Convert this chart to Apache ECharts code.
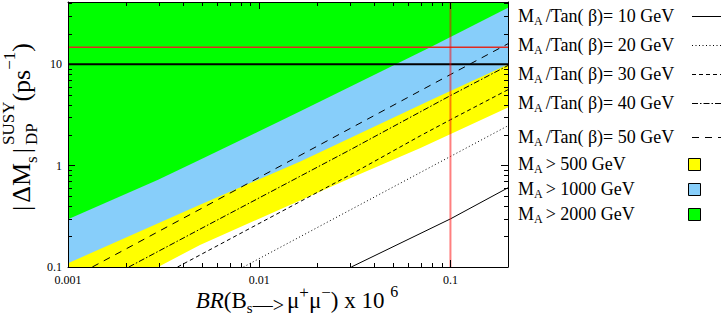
<!DOCTYPE html>
<html><head><meta charset="utf-8">
<script src="https://cdn.jsdelivr.net/npm/echarts@6/dist/echarts.min.js"></script>
<style>html,body{margin:0;padding:0;background:#fff;}#c{width:721px;height:321px;}</style>
</head><body><div id="c"></div>
<script>
// ---------------- data ----------------
const xMin = 0.001, xMax = 0.2, yMin = 0.1, yMax = 41;
const xTickLabels = ['0.001', '0.01', '0.1'];
const yTickLabels = ['0.1', '1', '10'];
const xMinorTicks = [0.002,0.003,0.004,0.005,0.006,0.007,0.008,0.009,0.02,0.03,0.04,0.05,0.06,0.07,0.08,0.09];
const yMinorTicks = [0.2,0.3,0.4,0.5,0.6,0.7,0.8,0.9,2,3,4,5,6,7,8,9,20,30,40];

// M_A/Tan(beta) curves: [BR x 10^6, |dMs|]
const line10GeV = [[0.0303,0.1],[0.1,0.298],[0.2,0.604]];
const line20GeV = [[0.00827,0.1],[0.0299,0.365],[0.1,1.23],[0.2,2.47]];
const line30GeV = [[0.00374,0.1],[0.0299,0.81],[0.0697,1.97],[0.1,2.83],[0.2,5.6]];
const line40GeV = [[0.00208,0.1],[0.0049,0.236],[0.0299,1.43],[0.1,4.9],[0.2,9.7]];
const line50GeV = [[0.00134,0.1],[0.0049,0.371],[0.1,7.9],[0.2,15.9]];

// lower edges of the M_A regions (region extends upward)
const edge500 = [[0.001,0.1],[0.00296,0.1],[0.0049,0.165],[0.0299,0.752],[0.0697,1.49],[0.2,3.73]];
const edge1000 = [[0.001,0.109],[0.0049,0.41],[0.0164,1.1],[0.0785,4.4],[0.2,9.9]];
const edge2000 = [[0.001,0.296],[0.00296,0.724],[0.0049,1.14],[0.0164,3.43],[0.0785,14.7],[0.2,36]];

const hLineBlack = 10;
const hLineRed = 14.7;
const vLineRed = 0.1;

const curveLabels = ['10','20','30','40','50'];
const regionLabels = ['500','1000','2000'];

// ---------------- styles ----------------
const FONT = '"Liberation Serif", "Times New Roman", serif';
const curveDash = ['solid', [1,2.5], [4,3], [6,2,1.5,2], [7,6]];
const regionColors = ['#ffff00', '#87cefa', '#00ff00'];
const curveData = [line10GeV, line20GeV, line30GeV, line40GeV, line50GeV];

const chart = echarts.init(document.getElementById('c'), null, {renderer:'svg'});

function fmt(labels){
  return function(v){
    for (const l of labels) if (Math.abs(Math.log10(v) - Math.log10(parseFloat(l))) < 1e-6) return l;
    return '';
  };
}
const axisBase = {
  type:'log', logBase:10, z:10,
  axisLine:{show:true, onZero:false, lineStyle:{color:'#000', width:1}},
  axisTick:{show:true, inside:true, length:7, lineStyle:{color:'#000', width:1}},
  splitLine:{show:false}, minorTick:{show:false}
};

function regionSeries(idx, edge){
  return {
    type:'custom', name:'M_A > ' + regionLabels[idx] + ' GeV', silent:true, z:1, clip:true,
    data: edge, encode:{x:0, y:1},
    renderItem: function(params, api){
      if (params.dataIndex !== 0) return null;
      const pts = edge.map(p => api.coord(p));
      pts.push(api.coord([xMax, yMax]));
      pts.push(api.coord([xMin, yMax]));
      return {type:'polygon', shape:{points:pts}, style:{fill:regionColors[idx], stroke:null}};
    }
  };
}
function curveSeries(idx){
  return {
    type:'line', name:'M_A/Tan(β)= ' + curveLabels[idx] + ' GeV', data: curveData[idx],
    symbol:'none', silent:true, z:4, clip:true,
    lineStyle:{color:'#000', width:1, type: curveDash[idx]}
  };
}
function minorTickSeries(values, isX){
  const len = 4;
  return {
    type:'custom', silent:true, z:12, clip:false,
    data: values.map(v => isX ? [v, yMin] : [xMin, v]), encode:{x:0, y:1},
    renderItem: function(params, api){
      const cs = params.coordSys;
      const p = api.coord([api.value(0), api.value(1)]);
      const st = {stroke:'#000', lineWidth:1};
      if (isX) {
        const x = Math.round(p[0]) + 0.5;
        return {type:'group', children:[
          {type:'line', shape:{x1:x, y1:cs.y+cs.height, x2:x, y2:cs.y+cs.height-len}, style:st},
          {type:'line', shape:{x1:x, y1:cs.y, x2:x, y2:cs.y+len}, style:st}
        ]};
      }
      const y = Math.round(p[1]) + 0.5;
      return {type:'group', children:[
        {type:'line', shape:{x1:cs.x, y1:y, x2:cs.x+len, y2:y}, style:st},
        {type:'line', shape:{x1:cs.x+cs.width, y1:y, x2:cs.x+cs.width-len, y2:y}, style:st}
      ]};
    }
  };
}

// ---------------- text layout helpers ----------------
const mctx = document.createElement('canvas').getContext('2d');
function measure(t, s, it){ mctx.font = (it ? 'italic ' : '') + s + 'px ' + FONT; return mctx.measureText(t).width; }
function layoutPieces(pieces){
  let x = 0; const out = [];
  for (let i = 0; i < pieces.length; i++){
    const p = pieces[i];
    const wd = measure(p.t, p.s, p.it);
    out.push({p, x});
    if (p.stack){
      const q = pieces[i+1]; const wq = measure(q.t, q.s, q.it);
      out.push({p:q, x});
      x += Math.max(wd, wq) + (q.gap || 0); i++;
    } else x += wd + (p.gap || 0);
  }
  return {items: out, width: x};
}
function textGroup(pieces, ox, oy, rotation, anchor){
  const L = layoutPieces(pieces);
  const shift = anchor === 'center' ? -L.width/2 : 0;
  return {
    type:'group', x: ox, y: oy, rotation: rotation || 0, z: 100,
    children: L.items.map(it => ({
      type:'text', x: it.x + shift, y: it.p.dy || 0, z:100,
      style:{text: it.p.t, fontSize: it.p.s, fontFamily: FONT, fontStyle: it.p.it ? 'italic' : 'normal',
             fill:'#000', align:'left', textAlign:'left', verticalAlign:'middle', textVerticalAlign:'middle'}
    }))
  };
}

const graphics = [];
// x-axis title
graphics.push(textGroup([
  {t:'BR', s:23, it:true}, {t:'(B', s:23}, {t:'s', s:15, dy:8, gap:0},
  {t:'—>', s:20, dy:5, gap:3},
  {t:'μ', s:23}, {t:'+', s:17, dy:-8}, {t:'μ', s:23}, {t:'−', s:17, dy:-8},
  {t:') x 10 ', s:23}, {t:'6', s:16, dy:-9}
], 297, 300, 0, 'center'));
// y-axis title (rotated)
graphics.push(textGroup([
  {t:'|', s:26, gap:3}, {t:'ΔM', s:26}, {t:'s', s:17, dy:10, gap:3}, {t:'|', s:26, gap:3},
  {t:'SUSY', s:17, dy:-13, stack:true}, {t:'DP', s:17, dy:10},
  {t:'(ps', s:26}, {t:'−1', s:17, dy:-12}, {t:')', s:26}
], 21, 127, Math.PI/2, 'center'));

// legend
const legendRowsY = [16, 45, 74, 103, 137, 164, 189, 214];
const legendX = 518;
for (let i = 0; i < 5; i++){
  const y = legendRowsY[i];
  graphics.push(textGroup([{t:'M', s:18}, {t:'A', s:12, dy:5, gap:3}, {t:'/Tan( β)= ' + curveLabels[i] + ' GeV', s:18}], legendX, y, 0, 'left'));
  const d = curveDash[i];
  graphics.push({type:'line', z:100, shape:{x1:692, y1:y+0.5, x2:724, y2:y+0.5},
    style:{stroke:'#000', lineWidth:1, lineDash: d === 'solid' ? null : d}});
}
for (let j = 0; j < 3; j++){
  const y = legendRowsY[5 + j];
  graphics.push(textGroup([{t:'M', s:18}, {t:'A', s:12, dy:5, gap:3}, {t:'> ' + regionLabels[j] + ' GeV', s:18}], legendX, y, 0, 'left'));
  graphics.push({type:'rect', z:100, shape:{x:688.5, y:Math.round(y-6)+0.5, width:12, height:12},
    style:{fill: regionColors[j], stroke:'#000', lineWidth:1}});
}

const option = {
  animation:false,
  grid:{left:68, right:213, top:2, bottom:54, outerBoundsMode:'none', containLabel:false},
  xAxis:[
    Object.assign({}, axisBase, {min:xMin, max:xMax, position:'bottom',
      axisLabel:{show:true, margin:7, color:'#000', fontFamily:FONT, fontSize:12, formatter: fmt(xTickLabels)}}),
    Object.assign({}, axisBase, {min:xMin, max:xMax, position:'top', axisLabel:{show:false}})
  ],
  yAxis:[
    Object.assign({}, axisBase, {min:yMin, max:yMax, position:'left',
      axisLabel:{show:true, margin:6, color:'#000', fontFamily:FONT, fontSize:12, formatter: fmt(yTickLabels)}}),
    Object.assign({}, axisBase, {min:yMin, max:yMax, position:'right', axisLabel:{show:false}})
  ],
  series:[
    regionSeries(0, edge500),
    regionSeries(1, edge1000),
    regionSeries(2, edge2000),
    curveSeries(0), curveSeries(1), curveSeries(2), curveSeries(3), curveSeries(4),
    {type:'line', name:'ref10', data:[[xMin, hLineBlack],[xMax, hLineBlack]], symbol:'none', silent:true, z:5,
      lineStyle:{color:'#000', width:2}},
    {type:'line', name:'refRedH', data:[[xMin, hLineRed],[xMax, hLineRed]], symbol:'none', silent:true, z:5,
      lineStyle:{color:'#e02a22', width:1.5}},
    {type:'line', name:'refRedV', data:[[vLineRed, yMin],[vLineRed, yMax]], symbol:'none', silent:true, z:6,
      lineStyle:{color:'rgba(255,0,0,0.5)', width:2}},
    minorTickSeries(xMinorTicks, true),
    minorTickSeries(yMinorTicks, false)
  ],
  graphic: graphics
};
chart.setOption(option);
</script>
</body></html>
